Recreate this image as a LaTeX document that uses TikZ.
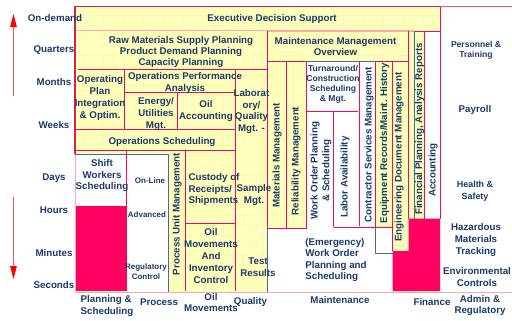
\documentclass[tikz,border=0pt]{standalone}
\usepackage{fontspec}
\setmainfont{Liberation Sans}
\usetikzlibrary{arrows.meta}
\definecolor{navy}{HTML}{1B3A6B}
\definecolor{rose}{HTML}{EE0A60}
\definecolor{hot}{HTML}{FF0060}
\definecolor{pale}{HTML}{FFFFC0}
\definecolor{gridc}{HTML}{FAFAA8}
\definecolor{blush}{HTML}{FFA8A8}
\definecolor{steel}{HTML}{4A6A96}
\definecolor{crimson}{HTML}{D8204E}
\definecolor{shaft}{HTML}{FF5A5A}
\tikzset{
  x=1bp,y=-1bp,
  lbl/.style={font=\bfseries\fontsize{9.8}{12}\selectfont,text=navy,align=center,inner sep=0pt},
  lblleft/.style={lbl,align=left},
  small/.style={lbl,font=\bfseries\fontsize{8.6}{10}\selectfont},
  tiny/.style={lbl,font=\bfseries\fontsize{8}{10}\selectfont},
  vert/.style={lbl,rotate=90},
  rl/.style={draw=rose,line width=0.9bp},
  bl/.style={draw=steel,line width=0.9bp},
  redarrow/.style={draw=shaft,line width=0.8bp,-{Triangle[length=13bp,width=6.5bp,color=red]}},
}
\begin{document}
\begin{tikzpicture}
\useasboundingbox (0,0) rectangle (512,320);
\fill[white] (0,0) rectangle (512,320);
% yellow field and grid
\fill[pale] (75,7) rectangle (440,292);
\begin{scope}
\clip (75,7) rectangle (440,292);
\foreach \g in {73,83,...,440} \draw[gridc,line width=0.4bp] (\g,7) -- (\g,292);
\foreach \g in {15,25,...,292} \draw[gridc,line width=0.4bp] (75,\g) -- (440,\g);
\end{scope}
% white regions
\fill[white] (75,154) rectangle (126.5,206);
\fill[white] (126.5,154) rectangle (168.5,292);
\fill[white] (267.5,228) rectangle (392.5,292);
\fill[white] (306.5,61) rectangle (375.5,228);
\fill[white] (375.5,253) rectangle (392.5,292);
\fill[white] (424.5,31) rectangle (440,218.5);
% red regions
\fill[hot] (75,206) rectangle (126.5,291);
\fill[hot] (408.5,218.5) -- (440,218.5) -- (440,291) -- (392.5,291) -- (392.5,251) -- (408.5,251) -- cycle;
% frame and lines
\draw[draw=blush,line width=1bp] (75,292.5) -- (512,292.5);
\draw[draw=blush,line width=1bp] (75,154) -- (75,292);
\draw[draw=crimson,line width=1.1bp] (75,154) -- (75,6.5) -- (440,6.5);
\draw[draw=shaft,line width=0.8bp] (440,6.5) -- (512,6.5);
\draw[draw=blush,line width=1.2bp] (77,30.5) -- (267,30.5);
\draw[draw=blush,line width=1.2bp] (267,31) -- (414,31);
\draw[rl] (414.5,31) -- (440,31);
\draw[rl] (440,6.5) -- (440,218.5);
\draw[rl] (78,69.5) -- (267.5,69.5);
\draw[rl] (124.5,69.5) -- (124.5,129);
\draw[rl] (124.5,92.5) -- (235.5,92.5);
\draw[rl] (177.5,92.5) -- (177.5,129);
\draw[rl] (76,129) -- (235.5,129);
\draw[rl] (75,150.5) -- (235.5,150.5);
\draw[rl] (126.5,150.5) -- (126.5,206);
\draw[rl] (185.5,150.5) -- (185.5,291);
\draw[rl] (185.5,223) -- (235.5,223);
\draw[rl] (235.5,69.5) -- (235.5,291);
\draw[rl] (267.5,30.5) -- (267.5,228);
\draw[rl] (267.5,61) -- (306.5,61);
\draw[rl] (375.5,61) -- (408.5,61);
\draw[rl] (286.7,61) -- (286.7,228);
\draw[rl] (267.5,228) -- (306.5,228);
\draw[rl] (306.5,111) -- (358,111);
\draw[rl] (333.7,111) -- (333.7,227);
\draw[rl] (359.3,61) -- (359.3,226);
\draw[rl] (333.7,227) -- (392.5,227);
\draw[rl] (375.5,61) -- (375.5,228);
\draw[rl] (392.5,61) -- (392.5,251);
\draw[rl] (408.7,31) -- (408.7,218.5);
\draw[rl] (424.5,31) -- (424.5,218.5);
\draw[bl] (75,154) -- (168.5,154);
\draw[bl] (168.5,154) -- (168.5,292);
\draw[bl] (306.5,61) -- (375.5,61);
\draw[rl] (306.5,61) -- (306.5,228);
\draw[bl] (267.5,228) -- (267.5,292);
\draw[bl] (375.5,228) -- (375.5,253) -- (392.5,253);
\draw[bl] (414.5,31) -- (414.5,218.5);
% arrows
\coordinate (upA) at (13.5,96);
\coordinate (upB) at (13.5,14);
\coordinate (dnA) at (13.5,197);
\coordinate (dnB) at (13.5,279);
\draw[redarrow] (upA) -- (upB);
\draw[redarrow] (dnA) -- (dnB);
% time scale
\node[lbl] (t1) at (55,18) {On-demand};
\node[lbl] (t2) at (54,50.5) {Quarters};
\node[lbl] (t3) at (54,82.5) {Months};
\node[lbl] (t4) at (54,125.5) {Weeks};
\node[lbl] (t5) at (54,178.5) {Days};
\node[lbl] (t6) at (54,210.5) {Hours};
\node[lbl] (t7) at (54,253.5) {Minutes};
\node[lbl] (t8) at (54,285.5) {Seconds};
% body
\node[lbl] (eds) at (272,18.5) {Executive Decision Support};
\node[lbl,font=\bfseries\fontsize{9.8}{10.7}\selectfont] (raw) at (181,52) {Raw Materials Supply Planning\\Product Demand Planning\\Capacity Planning};
\node[lbl] (opi) at (100,98) {Operating\\Plan\\Integration\\\& Optim.};
\node[lbl] (opa) at (185,82.5) {Operations Performance\\Analysis};
\node[lbl] (enu) at (156,114) {Energy/\\Utilities\\Mgt.};
\node[lbl] (oac) at (206,111) {Oil\\Accounting};
\node[lbl] (osc) at (162,142) {Operations Scheduling};
\node[lbl,font=\bfseries\fontsize{9.8}{11.7}\selectfont] (lab) at (251.5,111.5) {Laborat\\ory/\\Quality\\Mgt. -};
\node[lbl,font=\bfseries\fontsize{9.8}{11.5}\selectfont] (mmo) at (335.5,46.5) {Maintenance Management\\Overview};
\node[small] (tur) at (333,84) {Turnaround/\\Construction\\Scheduling\\\& Mgt.};
\node[small] (per) at (476,50) {Personnel \&\\Training};
\node[lbl] (pay) at (475,110) {Payroll};
\node[small,font=\bfseries\fontsize{9}{12}\selectfont] (hea) at (475,191) {Health \&\\Safety};
\node[lbl] (haz) at (476,240) {Hazardous\\Materials\\Tracking};
\node[lbl] (env) at (477,277) {Environmental\\Controls};
\node[lbl] (adm) at (480,305.5) {Admin \&\\Regulatory};
\node[lbl] (fin) at (432,302) {Finance};
\node[lbl] (mai) at (340,300.5) {Maintenance};
\node[lbl] (qua) at (250.5,302) {Quality};
\node[lbl] (omv) at (211,302.5) {Oil\\Movements};
\node[lbl] (pro) at (159,302) {Process};
\node[lblleft] (pla) at (107,306) {Planning \&\\Scheduling};
\node[lbl] (shi) at (102,175.5) {Shift\\Workers\\Scheduling};
\node[tiny] (onl) at (150,181) {On-Line};
\node[tiny] (adv) at (147,215) {Advanced};
\node[tiny] (reg) at (146,272) {Regulatory\\Control};
\node[vert] (pum) at (177,214) {Process Unit Management};
\node[lblleft] (cus) at (214,189.5) {Custody of\\Receipts/\\Shipments};
\node[lbl] (oil) at (211,256) {Oil\\Movements\\And\\Inventory\\Control};
\node[lbl] (sam) at (254,195) {Sample\\Mgt.};
\node[lbl] (tes) at (258,267.5) {Test\\Results};
\node[lblleft,font=\bfseries\fontsize{9.8}{11.5}\selectfont] (emg) at (336,260) {(Emergency)\\Work Order\\Planning and\\Scheduling};
\node[vert] (mat) at (277,155.5) {Materials Management};
\node[vert] (rel) at (296,161) {Reliability Management};
\node[vert] (wop) at (321,170.5) {Work Order Planning\\\& Scheduling};
\node[vert] (lav) at (345,177) {Labor Availability};
\node[vert] (con) at (369,144.5) {Contractor Services Management};
\node[vert] (equ) at (384.5,143) {Equipment Records/Maint. History};
\node[vert] (eng) at (399,157) {Engineering Document Management};
\node[vert] (fpl) at (419.5,129) {Financial Planning, Analysis Reports};
\node[vert] (acc) at (433,170) {Accounting};
\end{tikzpicture}
\end{document}
